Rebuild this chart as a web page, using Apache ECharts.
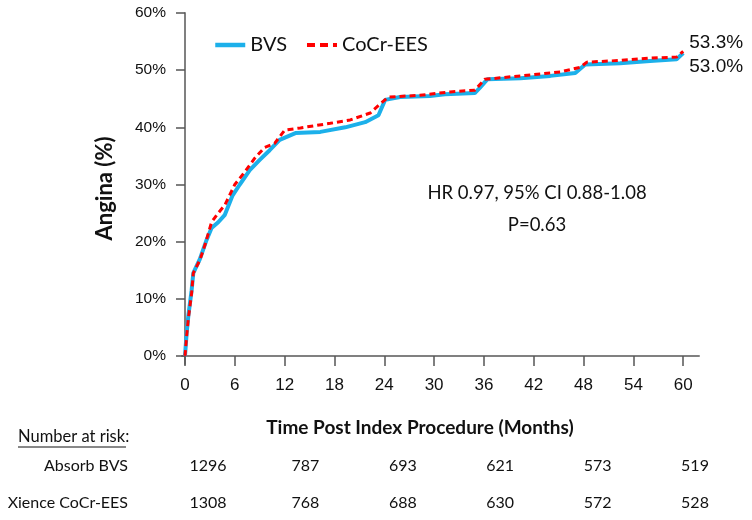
<!DOCTYPE html>
<html>
<head>
<meta charset="utf-8">
<script src="https://cdn.jsdelivr.net/npm/echarts@6/dist/echarts.min.js"></script>
<style>
  html, body { margin: 0; padding: 0; background: #fff; }
  #main { width: 752px; height: 520px; }
</style>
</head>
<body>
<div id="main"></div>
<script>
// cumulative incidence of angina
var bvsMonths = [0, 0.2, 0.4, 0.8, 1.0, 1.8, 2.6, 3.2, 4.0, 4.8, 5.7, 6.6, 7.8, 9.0, 10.2, 11.4, 13.3, 16.3, 19.3, 21.7, 23.3, 24.1, 25.9, 29.5, 31.3, 34.9, 35.5, 36.4, 40.4, 44.0, 47.0, 48.2, 52.4, 56.0, 59.2, 60];
var bvsPct    = [0, 4.0, 7.0, 11.5, 14.5, 17.0, 20.3, 22.4, 23.4, 24.7, 28.0, 30.0, 32.5, 34.3, 36.0, 37.8, 39.0, 39.2, 40.0, 40.9, 42.1, 44.8, 45.3, 45.5, 45.8, 46.0, 46.9, 48.4, 48.6, 49.0, 49.5, 51.0, 51.2, 51.6, 51.9, 53.0];
var eesMonths = [0, 0.2, 0.4, 0.8, 1.0, 1.8, 2.4, 3.2, 4.0, 4.8, 6.0, 7.2, 8.4, 9.6, 10.8, 12.0, 13.9, 17.5, 19.9, 22.3, 23.5, 24.5, 28.3, 31.9, 34.9, 36.1, 40.4, 45.2, 47.6, 48.4, 52.4, 56.0, 59.2, 60];
var eesPct    = [0, 3.5, 6.5, 11.0, 14.5, 16.8, 19.4, 23.4, 25.0, 26.4, 30.0, 32.2, 34.6, 36.5, 37.2, 39.5, 39.9, 40.7, 41.3, 42.5, 44.1, 45.3, 45.6, 46.2, 46.5, 48.4, 49.0, 49.7, 50.5, 51.4, 51.7, 52.1, 52.3, 53.3];
var endLabels = ['53.0%', '53.3%'];

var xTicks = [0, 6, 12, 18, 24, 30, 36, 42, 48, 54, 60];
var yTicks = [0, 10, 20, 30, 40, 50, 60];

// number at risk table
var riskRows = ['Absorb BVS', 'Xience CoCr-EES'];
var riskBvs  = [1296, 787, 693, 621, 573, 519];
var riskEes  = [1308, 768, 688, 630, 572, 528];

function pairs(xs, ys) {
    return xs.map(function (x, i) { return [x, ys[i]]; });
}

var chart = echarts.init(document.getElementById('main'));

var graphics = [
    { type: 'text', x: 537, y: 193, style: { text: 'HR 0.97, 95% CI 0.88-1.08', font: '18.5px Lato', fill: '#111', align: 'center', verticalAlign: 'middle' } },
    { type: 'text', x: 537, y: 225, style: { text: 'P=0.63', font: '18.5px Lato', fill: '#111', align: 'center', verticalAlign: 'middle' } },
    { type: 'text', left: 18, top: 428, style: { text: 'Number at risk:', font: '16.5px Lato', fill: '#111' } },
    { type: 'line', shape: { x1: 18, y1: 447, x2: 126, y2: 447 }, style: { stroke: '#111', lineWidth: 1 } },
    { type: 'text', x: 420, y: 428, style: { text: 'Time Post Index Procedure (Months)', font: 'bold 19px Lato', fill: '#111', align: 'center', verticalAlign: 'middle' } }
];
[riskBvs, riskEes].forEach(function (row, r) {
    var y = 466 + r * 37;
    graphics.push({ type: 'text', x: 128, y: y, style: { text: riskRows[r], font: '16px Lato', fill: '#111', align: 'right', verticalAlign: 'middle' } });
    row.forEach(function (v, i) {
        graphics.push({ type: 'text', x: 208 + i * 97.4, y: y, style: { text: String(v), font: '16px Lato', fill: '#111', align: 'center', verticalAlign: 'middle' } });
    });
});

var option = {
    animation: false,
    grid: { left: 182, right: 53, top: 13, bottom: 156, containLabel: false },
    legend: {
        left: 208, top: 30,
        itemWidth: 30, itemHeight: 14, itemGap: 18,
        itemStyle: { opacity: 0 },
        textStyle: { fontFamily: 'Lato', fontSize: 20, color: '#111' },
        data: [
            { name: 'BVS', lineStyle: { width: 4.5 } },
            { name: 'CoCr-EES', lineStyle: { width: 4, type: [8, 5] } }
        ]
    },
    xAxis: {
        type: 'value', min: -0.36, max: 61.9,
        axisLine: { lineStyle: { color: '#808080', width: 2 } },
        axisTick: { customValues: xTicks, length: 10, lineStyle: { color: '#555', width: 1.5 } },
        axisLabel: { customValues: xTicks, margin: 13, fontFamily: 'Liberation Sans', fontSize: 17, color: '#111' },
        splitLine: { show: false }
    },
    yAxis: {
        type: 'value', min: -1.4, max: 60,
        name: 'Angina (%)', nameLocation: 'middle', nameGap: 66,
        nameTextStyle: { fontFamily: 'Lato', fontWeight: 'bold', fontSize: 22, color: '#111' },
        axisLine: { show: true, lineStyle: { color: '#808080', width: 2 } },
        axisTick: { show: true, customValues: yTicks, length: 9, lineStyle: { color: '#555', width: 1.5 } },
        axisLabel: { customValues: yTicks, margin: 16, fontFamily: 'Liberation Sans', fontSize: 15.5, color: '#111', formatter: '{value}%' },
        splitLine: { show: false }
    },
    series: [
        {
            name: 'BVS', type: 'line', showSymbol: false, symbol: 'none',
            data: pairs(bvsMonths, bvsPct),
            lineStyle: { color: '#1cb0ea', width: 4 },
            itemStyle: { color: '#1cb0ea' },
            endLabel: { show: true, formatter: endLabels[0], offset: [0, 14], distance: 6, fontFamily: 'Liberation Sans', fontSize: 19, color: '#111' }
        },
        {
            name: 'CoCr-EES', type: 'line', showSymbol: false, symbol: 'none',
            data: pairs(eesMonths, eesPct),
            lineStyle: { color: '#ff0000', width: 3, type: [6, 4] },
            itemStyle: { color: '#ff0000' },
            endLabel: { show: true, formatter: endLabels[1], offset: [0, -9], distance: 6, fontFamily: 'Liberation Sans', fontSize: 19, color: '#111' }
        }
    ],
    graphic: graphics
};
chart.setOption(option);
</script>
</body>
</html>
